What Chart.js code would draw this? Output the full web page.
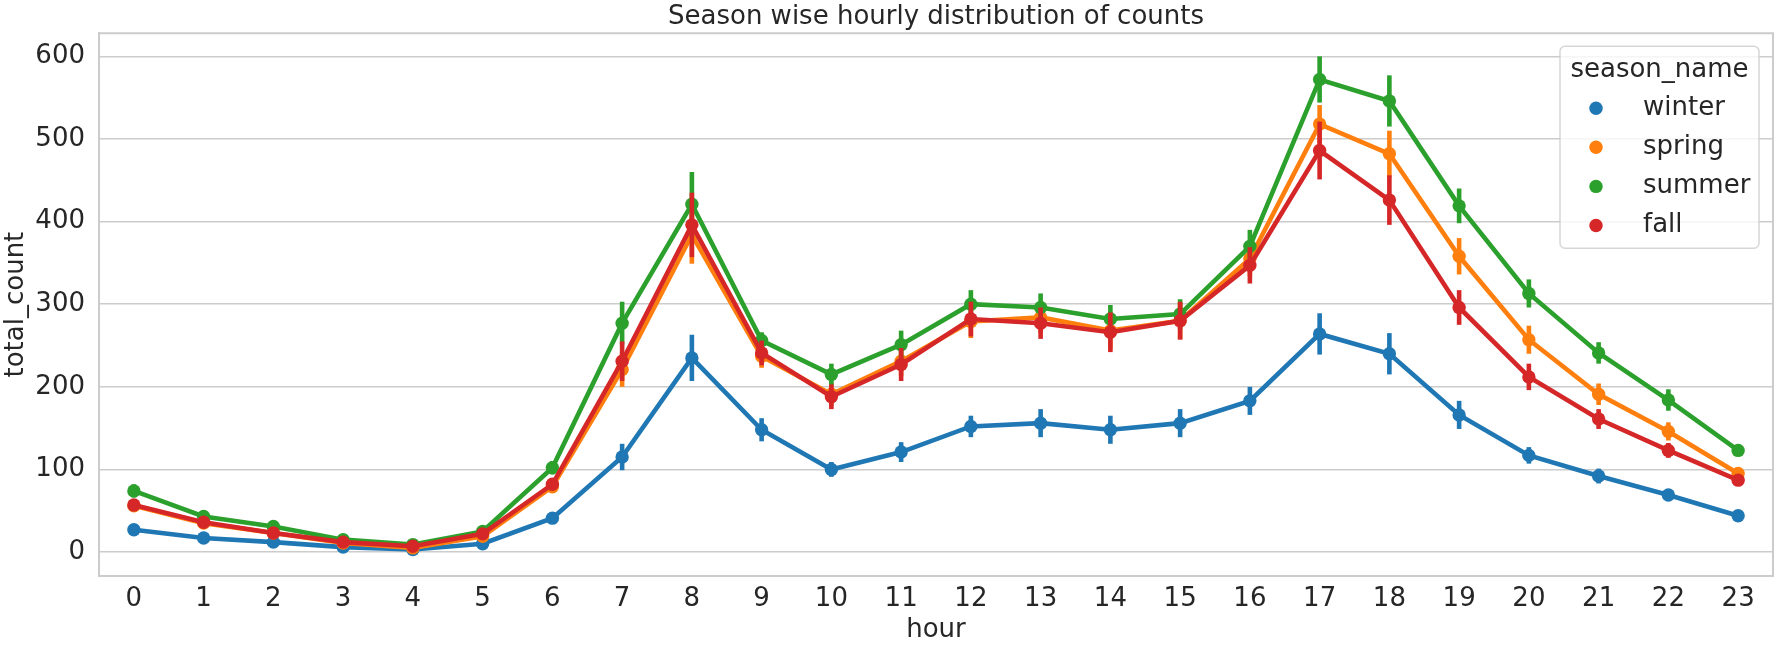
<!DOCTYPE html>
<html>
<head>
<meta charset="utf-8">
<script src="https://cdn.jsdelivr.net/npm/chart.js@4.4.1/dist/chart.umd.min.js"></script>
<style>
  html, body { margin: 0; padding: 0; background: #ffffff; }
  #wrap { width: 1780px; height: 652px; }
</style>
</head>
<body>
<div id="wrap"><canvas id="c" width="1780" height="652"></canvas></div>
<script>
// ---------- data ----------
const hours = ["0","1","2","3","4","5","6","7","8","9","10","11","12","13","14","15","16","17","18","19","20","21","22","23"];
const seasonNames = ["winter", "spring", "summer", "fall"];
const seriesColors = ["#1f77b4", "#ff7f0e", "#2ca02c", "#d62728"];

const winter = [27,17,12,6,3,10,41,115,235,148,100,121,152,156,148,156,183,264,240,166,117,92,69,44];
const spring = [56,35,23,11,5,19,79,221,384,237,191,231,279,284,268,280,355,518,482,358,257,191,146,95];
const summer = [74,43,31,15,9,25,102,277,421,256,215,251,300,296,282,288,370,572,546,419,313,241,184,123];
const fall   = [57,36,23,12,7,22,82,231,396,241,188,227,282,277,266,280,347,486,426,296,212,161,123,87];

// confidence-interval half widths (error bars)
const winterCI = [3,2,2,1,1,2,4,16,28,14,9,12,13,17,17,17,17,25,25,17,10,9,7,5];
const springCI = [5,3,3,2,1,3,6,21,35,14,14,18,20,19,22,22,21,23,28,22,17,13,11,7];
const summerCI = [8,4,3,2,1,3,8,26,39,10,13,17,17,17,17,18,20,28,31,21,17,13,13,6];
const fallCI   = [5,3,3,2,1,3,6,24,39,15,15,20,21,19,24,23,22,35,30,21,16,12,9,6];

const yTicks = [0,100,200,300,400,500,600];

const chartTitle = "Season wise hourly distribution of counts";
const xTitle = "hour";
const yTitle = "total_count";
const legendTitle = "season_name";

// ---------- styling ----------
const FONT = "'DejaVu Sans', 'Liberation Sans', sans-serif";
const TEXT = "#262626";
const GRID = "#cccccc";
const LW = 4.6;

const seriesValues = [winter, spring, summer, fall];
const seriesCI = [winterCI, springCI, summerCI, fallCI];

const datasets = seasonNames.map((name, i) => ({
  label: name,
  data: seriesValues[i],
  ci: seriesCI[i],
  borderColor: seriesColors[i],
  backgroundColor: seriesColors[i],
  pointBackgroundColor: seriesColors[i],
  pointBorderColor: seriesColors[i],
  pointBorderWidth: 0,
  pointRadius: 6.7,
  pointHoverRadius: 6.7,
  borderWidth: LW,
  tension: 0,
  fill: false,
  order: seasonNames.length - 1 - i
}));

const errorBarPlugin = {
  id: 'errorBars',
  afterDatasetDraw(chart, args) {
    const ds = chart.data.datasets[args.index];
    const meta = args.meta;
    const ys = chart.scales.y;
    const ctx = chart.ctx;
    ctx.save();
    ctx.strokeStyle = ds.borderColor;
    ctx.lineWidth = LW;
    ctx.lineCap = 'butt';
    ds.data.forEach((v, i) => {
      const pt = meta.data[i];
      const c = ds.ci[i];
      const y1 = ys.getPixelForValue(v - c);
      const y2 = ys.getPixelForValue(v + c);
      ctx.beginPath();
      ctx.moveTo(pt.x, y1);
      ctx.lineTo(pt.x, y2);
      ctx.stroke();
    });
    ctx.restore();
  }
};

const framePlugin = {
  id: 'frame',
  beforeDatasetsDraw(chart) {
    const {ctx, chartArea} = chart;
    ctx.save();
    ctx.strokeStyle = GRID;
    ctx.lineWidth = 2;
    ctx.beginPath();
    ctx.moveTo(chartArea.left, chartArea.top);
    ctx.lineTo(chartArea.right, chartArea.top);
    ctx.lineTo(chartArea.right, chartArea.bottom);
    ctx.stroke();
    ctx.restore();
  }
};

const legendPlugin = {
  id: 'seasonLegend',
  afterDraw(chart) {
    const ctx = chart.ctx;
    const ca = chart.chartArea;
    const bx = ca.right - 213, by = ca.top + 13, bw = 199, bh = 202;
    ctx.save();
    ctx.beginPath();
    ctx.roundRect(bx, by, bw, bh, 5);
    ctx.fillStyle = "rgba(255,255,255,0.8)";
    ctx.fill();
    ctx.strokeStyle = "rgba(204,204,204,0.8)";
    ctx.lineWidth = 1.5;
    ctx.stroke();
    ctx.fillStyle = TEXT;
    ctx.font = "26px " + FONT;
    ctx.textAlign = "center";
    ctx.textBaseline = "alphabetic";
    ctx.fillText(legendTitle, bx + bw / 2, by + 31);
    chart.data.datasets.forEach((ds, i) => {
      const cy = by + 62 + i * 39.1;
      ctx.beginPath();
      ctx.arc(bx + 36, cy, 6.7, 0, Math.PI * 2);
      ctx.fillStyle = ds.borderColor;
      ctx.fill();
      ctx.fillStyle = TEXT;
      ctx.textAlign = "left";
      ctx.fillText(ds.label, bx + 83, cy + 6.7);
    });
    ctx.restore();
  }
};

new Chart(document.getElementById('c'), {
  type: 'line',
  data: { labels: hours, datasets: datasets },
  options: {
    responsive: false,
    devicePixelRatio: 1,
    animation: false,
    events: [],
    layout: { padding: { left: 0, right: 7, top: 0, bottom: 0 } },
    plugins: {
      legend: { display: false },
      tooltip: { enabled: false },
      title: {
        display: true,
        fullSize: false,
        text: chartTitle,
        color: TEXT,
        font: { family: FONT, size: 26, weight: 'normal', lineHeight: 1.2 },
        padding: { top: 2, bottom: 0 }
      }
    },
    scales: {
      x: {
        type: 'category',
        offset: true,
        grid: { display: false, drawTicks: false },
        border: { display: true, color: GRID, width: 2 },
        ticks: { color: TEXT, font: { family: FONT, size: 26 }, padding: 8, maxRotation: 0, autoSkip: false },
        title: { display: true, text: xTitle, color: TEXT, font: { family: FONT, size: 26, lineHeight: 1.2 }, padding: { top: 0, bottom: 6 } },
        afterFit(scale) { scale.height = 76; }
      },
      y: {
        type: 'linear',
        min: -29,
        max: 628,
        grid: { color: GRID, lineWidth: 1.6, drawTicks: false },
        border: { display: true, color: GRID, width: 2 },
        ticks: { color: TEXT, font: { family: FONT, size: 26 }, padding: 14, callback: (v) => String(v) },
        afterBuildTicks(scale) { scale.ticks = yTicks.map(v => ({ value: v })); },
        title: { display: true, text: yTitle, color: TEXT, font: { family: FONT, size: 26, lineHeight: 1.2 }, padding: { top: 1, bottom: 0 } },
        afterFit(scale) { scale.width = 99; }
      }
    }
  },
  plugins: [framePlugin, errorBarPlugin, legendPlugin]
});
</script>
</body>
</html>
